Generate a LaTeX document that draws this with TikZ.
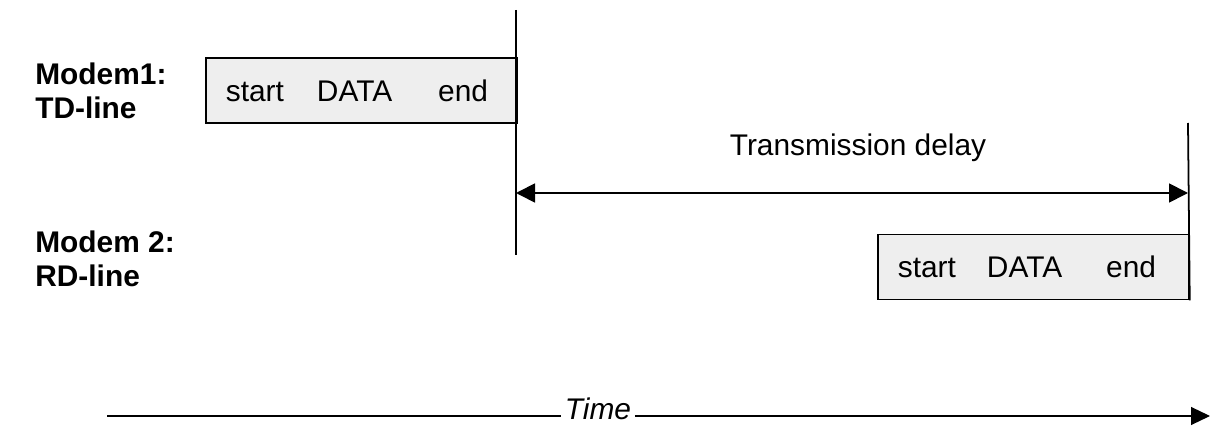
\documentclass[tikz,border=0pt]{standalone}
\usepackage{xcolor}
\usepackage{fontspec}
\setmainfont{Liberation Sans}
\usepackage{tikz}
\usetikzlibrary{arrows.meta, positioning, calc}
\definecolor{framegray}{HTML}{EEEEEE}

\begin{document}
\begin{tikzpicture}[
  txt/.style={font=\fontsize{17}{19}\selectfont, inner sep=0pt},
  lbl/.style={txt, font=\fontsize{17}{19}\selectfont\bfseries, align=left, anchor=west},
  frame/.style={rectangle, draw=black, line width=1pt, fill=framegray, anchor=west, text width=6.22cm, minimum height=1.3cm, inner sep=0pt, align=left, font=\fontsize{17}{19}\selectfont},
  marker/.style={line width=1pt},
  span/.style={{Triangle[length=3.8mm, width=3.8mm]}-{Triangle[length=3.8mm, width=3.8mm]}, line width=1pt},
  axis/.style={-{Triangle[length=3.8mm, width=3.6mm]}, line width=0.6pt}
]
  \useasboundingbox (0,0) rectangle (24.32,-8.52);

  % line names
  \node[lbl] (modemone) at (0.7,-1.82) {Modem1:\\TD-line};
  \node[lbl] (modemtwo) at (0.7,-5.18) {Modem 2:\\RD-line};

  % data frames
  \node[frame] (tdframe) at (4.1,-1.81) {\hspace*{0.4cm}start\hspace{0.66cm}DATA\hspace{0.92cm}end};
  \node[frame] (rdframe) at (17.54,-5.34) {\hspace*{0.4cm}start\hspace{0.62cm}DATA\hspace{0.88cm}end};

  % time markers
  \coordinate (sendtop) at (10.32,-0.2);
  \coordinate (sendbot) at (10.32,-5.1);
  \coordinate (recvtop) at (23.76,-2.46);
  \coordinate (recvbot) at (rdframe.south east);
  \draw[marker] (sendtop) -- (sendbot);
  \draw[marker] (recvtop) -- (recvbot);

  \node[txt] (delay) at (17.16,-2.96) {Transmission delay};
  \draw[span] (sendtop |- 0,-3.86) -- (recvtop |- 0,-3.86);

  % time axis
  \node[txt, font=\fontsize{17}{19}\selectfont\itshape, inner xsep=2pt] (time) at (11.96,-8.18) {Time};
  \coordinate (axisstart) at (2.14,-8.32);
  \coordinate (axisend) at (24.2,-8.32);
  \draw[line width=0.6pt] (axisstart) -- (axisstart -| time.west);
  \draw[axis] (axisend -| time.east) -- (axisend);
\end{tikzpicture}
\end{document}
